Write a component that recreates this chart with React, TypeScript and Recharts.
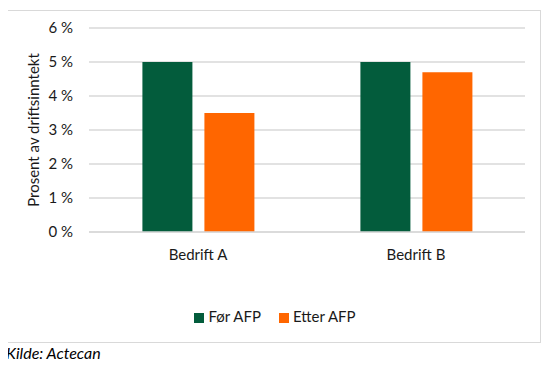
import React from 'react';
import { BarChart, Bar, XAxis, YAxis, CartesianGrid, Legend } from 'recharts';

const companies = ['Bedrift A', 'Bedrift B'];
const forAfp = [5, 5];
const etterAfp = [3.5, 4.7];
const yTicks = [0, 1, 2, 3, 4, 5, 6];
const seriesNames = ['Før AFP', 'Etter AFP'];

const data = companies.map((name, i) => ({ name, for: forAfp[i], etter: etterAfp[i] }));

const font = 'Lato, "Open Sans", sans-serif';
const textColor = '#1a1a1a';

const App = () => {
  return (
    <div style={{ position: 'relative', width: 550, height: 367, margin: -8, background: '#fff', fontFamily: font }}>
      <div
        style={{
          position: 'absolute',
          left: 6,
          top: 10,
          width: 533,
          height: 331,
          border: '1px solid #d9d9d9',
        }}
      >
        <BarChart
          width={533}
          height={331}
          data={data}
          margin={{ top: 17, right: 15, left: 0, bottom: 17 }}
          barCategoryGap="24.5%"
          barGap={12}
        >
          <CartesianGrid vertical={false} stroke="#d9d9d9" strokeWidth={1.5} />
          <XAxis
            dataKey="name"
            axisLine={{ stroke: '#d9d9d9', strokeWidth: 1.5 }}
            tickLine={false}
            tickMargin={11}
            height={74}
            tick={{ fill: textColor, fontSize: 15, fontFamily: font }}
          />
          <YAxis
            width={82}
            domain={[0, 6]}
            ticks={yTicks}
            axisLine={false}
            tickLine={false}
            tickSize={0}
            tickMargin={16}
            tickFormatter={(v: number) => `${v} %`}
            tick={{ fill: textColor, fontSize: 15, fontFamily: font }}
            label={{
              value: 'Prosent av driftsinntekt',
              angle: -90,
              position: 'insideLeft',
              offset: 27,
              style: { textAnchor: 'middle', fill: textColor, fontSize: 15, fontFamily: font },
            }}
          />
          <Legend
            verticalAlign="bottom"
            align="center"
            iconType="square"
            iconSize={10}
            wrapperStyle={{ paddingLeft: 14 }}
            itemSorter={(item: any) => seriesNames.indexOf(item.value)}
            formatter={(value: string) => (
              <span
                style={{
                  color: textColor,
                  fontSize: 15,
                  fontFamily: font,
                  marginRight: value === seriesNames[0] ? 8 : 0,
                }}
              >
                {value}
              </span>
            )}
          />
          <Bar dataKey="for" name={seriesNames[0]} fill="#035c3c" isAnimationActive={false} />
          <Bar dataKey="etter" name={seriesNames[1]} fill="#ff6600" isAnimationActive={false} />
        </BarChart>
      </div>
      <div
        style={{
          position: 'absolute',
          left: 6,
          top: 343,
          fontStyle: 'italic',
          fontSize: 16,
          color: '#000',
          fontFamily: font,
        }}
      >
        Kilde: Actecan
      </div>
    </div>
  );
};

export default App;
